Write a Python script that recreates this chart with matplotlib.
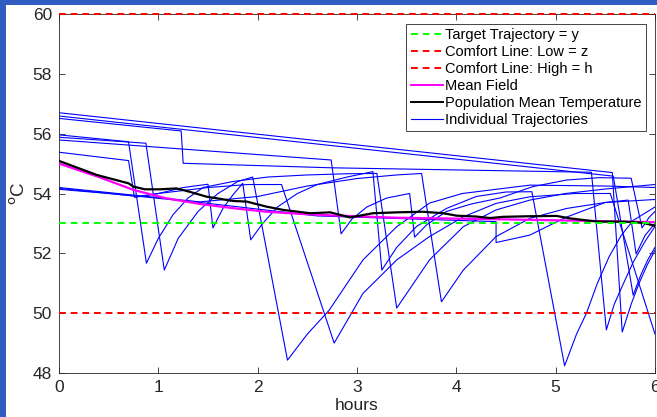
import matplotlib
matplotlib.use("Agg")
import matplotlib.pyplot as plt
from matplotlib.patches import Rectangle
from matplotlib.lines import Line2D

# ---------------- data ----------------
target_level = 53.0
comfort_low = 50.0
comfort_high = 60.0

mean_field_t = [0, 0.41, 0.75, 1.08, 1.42, 1.75, 2.09, 2.42, 2.73, 3.40, 4.40, 5.41, 6.0]
mean_field_T = [55.0, 54.54, 54.12, 53.84, 53.65, 53.51, 53.39, 53.32, 53.27, 53.19, 53.14, 53.08, 53.04]

pop_mean_t = [0, 0.38, 0.70, 0.75, 0.865, 1.02, 1.18, 1.28, 1.49, 1.59, 1.75, 1.89, 2.09, 2.26,
              2.53, 2.73, 2.93, 3.16, 3.40, 3.66, 3.87, 4.0, 4.20, 4.34, 4.47, 4.74, 5.01, 5.14,
              5.34, 5.44, 5.68, 5.88, 6.0]
pop_mean_T = [55.09, 54.62, 54.34, 54.23, 54.14, 54.14, 54.17, 54.09, 53.89, 53.84, 53.75, 53.73,
              53.56, 53.45, 53.34, 53.37, 53.20, 53.34, 53.37, 53.39, 53.34, 53.26, 53.23, 53.18,
              53.22, 53.24, 53.25, 53.17, 53.09, 53.06, 53.06, 53.02, 52.92]

traj_a = [(0, 56.70), (5.57, 54.70), (5.67, 49.37), (5.76, 50.3), (5.84, 51.0), (5.92, 51.6), (6.0, 52.1)]
traj_b = [(0, 56.59), (5.58, 54.58), (5.78, 50.6), (5.86, 51.3), (5.93, 51.8), (6.0, 52.2)]
traj_c = [(0, 56.51), (1.23, 56.09), (1.25, 55.01), (2.73, 54.86), (5.36, 54.71), (5.51, 49.44),
          (5.59, 50.3), (5.67, 50.9), (5.78, 51.7), (5.9, 52.4), (6.0, 52.9)]
traj_d = [(0, 55.96), (0.70, 55.73), (0.88, 51.67), (1.0, 52.5), (1.15, 53.3), (1.3, 53.85),
          (1.45, 54.2), (1.75, 54.4), (2.1, 54.55), (2.5, 54.62), (2.9, 54.66), (3.20, 54.67),
          (3.40, 50.17), (3.57, 51.0), (3.73, 51.78), (4.07, 52.89), (4.40, 53.45), (4.74, 53.78),
          (5.1, 54.0), (5.5, 54.15), (6.0, 54.3)]
traj_e = [(0, 55.88), (0.875, 55.68), (1.06, 51.44), (1.2, 52.5), (1.4, 53.4), (1.6, 54.0),
          (1.8, 54.4), (1.95, 54.55), (2.30, 48.43), (2.50, 49.3), (2.72, 50.1), (3.06, 51.78),
          (3.40, 52.89), (3.73, 53.68), (4.06, 54.0), (4.74, 54.28), (5.5, 54.25), (6.0, 54.2)]
traj_f = [(0, 55.79), (2.74, 55.12), (2.84, 52.65), (2.95, 53.15), (3.1, 53.55), (3.3, 53.85),
          (3.53, 54.0), (3.58, 52.54), (3.7, 52.95), (3.9, 53.4), (4.15, 53.65), (4.44, 53.85),
          (4.77, 54.23), (5.11, 54.45), (5.44, 54.53), (5.76, 54.51), (5.87, 52.85), (5.94, 53.2),
          (6.0, 53.4)]
traj_g = [(0, 55.38), (0.70, 55.1), (0.76, 53.87), (1.0, 54.0), (1.5, 54.2), (1.9, 54.3),
          (2.24, 54.3), (2.77, 49.0), (3.06, 50.66), (3.40, 51.78), (3.73, 52.56), (4.07, 53.22),
          (4.40, 53.67), (4.74, 53.89), (5.2, 54.0), (5.55, 54.0), (6.0, 49.3)]
traj_h = [(0, 54.2), (1.42, 53.72), (2.0, 53.9), (2.5, 54.25), (3.0, 54.5), (3.4, 54.62),
          (3.65, 54.67), (3.85, 50.38), (4.07, 51.44), (4.40, 52.56), (4.74, 53.17), (5.11, 53.5),
          (5.5, 53.7), (6.0, 53.8)]
traj_i = [(0, 54.17), (1.42, 53.70), (2.6, 53.25), (4.40, 53.06), (4.40, 52.36), (4.74, 52.61),
          (5.1, 53.2), (5.5, 53.7), (5.73, 53.78), (5.81, 51.98), (5.9, 52.6), (6.0, 53.0)]
traj_j = [(0, 54.14), (0.5, 54.0), (0.8, 53.9), (1.0, 54.0), (1.25, 54.2), (1.50, 54.31),
          (1.55, 52.85), (1.65, 53.5), (1.75, 53.95), (1.85, 54.34), (1.93, 52.45), (2.05, 53.0),
          (2.2, 53.55), (2.4, 54.0), (2.6, 54.3), (2.9, 54.55), (3.16, 54.73), (3.25, 51.44),
          (3.4, 52.2), (3.6, 52.9), (3.9, 53.5), (4.2, 53.9), (4.5, 54.05), (4.76, 54.06),
          (5.09, 48.24), (5.21, 49.3), (5.31, 50.0), (5.42, 51.0), (5.54, 51.9), (5.66, 52.6),
          (5.78, 53.1), (6.0, 53.55)]

trajectories = [traj_a, traj_b, traj_c, traj_d, traj_e, traj_f, traj_g, traj_h, traj_i, traj_j]

x_ticks = [0, 1, 2, 3, 4, 5, 6]
y_ticks = [48, 50, 52, 54, 56, 58, 60]

labels = ["Target Trajectory = y", "Comfort Line: Low = z", "Comfort Line: High = h",
          "Mean Field", "Population Mean Temperature", "Individual Trajectories"]

# ---------------- figure ----------------
plt.rcParams['font.family'] = ['Liberation Sans', 'DejaVu Sans']
W, H = 657, 417
fig = plt.figure(figsize=(W / 100, H / 100), dpi=100)
fig.patch.set_facecolor('#315CC2')
fig.add_artist(Rectangle((6 / W, 0), 1 - 6 / W, 1 - 5 / H, transform=fig.transFigure,
                         facecolor='white', edgecolor='none', zorder=0))

ax = fig.add_axes([59 / W, (H - 373) / H, (655 - 59) / W, (373 - 14) / H])
ax.set_facecolor('white')

for tr in trajectories:
    ts = [p[0] for p in tr]
    Ts = [p[1] for p in tr]
    ax.plot(ts, Ts, color='#0000FF', lw=0.8, zorder=2)

ax.plot(mean_field_t, mean_field_T, color='#FF00FF', lw=1.6, zorder=3)
ax.plot(pop_mean_t, pop_mean_T, color='black', lw=1.6, zorder=4)

dash = (0, (3.5, 2.5))
ax.axhline(target_level, color='#00FF00', lw=1.4, ls=dash, zorder=5)
ax.axhline(comfort_low, color='#FF0000', lw=1.4, ls=dash, zorder=5)
ax.axhline(comfort_high, color='#FF0000', lw=1.4, ls=dash, zorder=5, clip_on=False)

ax.set_xlim(0, 6)
ax.set_ylim(48, 60)
ax.set_xticks(x_ticks)
ax.set_yticks(y_ticks)
ax.tick_params(direction='in', top=True, right=True, length=4, width=0.6,
               colors='#262626', labelsize=12.5)
ax.tick_params(axis='x', pad=5)
ax.tick_params(axis='y', pad=5)
for s in ax.spines.values():
    s.set_color('#262626')
    s.set_linewidth(0.6)

ax.set_xlabel('hours', fontsize=12.5, color='#262626', labelpad=2)
ax.set_ylabel('$^{\\mathrm{o}}$C', fontsize=13.5, color='#262626', labelpad=3)

handles = [
    Line2D([], [], color='#00FF00', lw=1.4, ls=dash),
    Line2D([], [], color='#FF0000', lw=1.4, ls=dash),
    Line2D([], [], color='#FF0000', lw=1.4, ls=dash),
    Line2D([], [], color='#FF00FF', lw=1.4),
    Line2D([], [], color='black', lw=1.4),
    Line2D([], [], color='#0000FF', lw=0.8),
]
leg = ax.legend(handles, labels, loc='upper right',
                bbox_to_anchor=((646 - 59) / (655 - 59), (373 - 24) / (373 - 14)),
                fontsize=10.5, frameon=True, fancybox=False, framealpha=1,
                edgecolor='#262626', handlelength=2.2, handletextpad=0.15,
                labelspacing=0.2, borderpad=0.3, borderaxespad=0)
leg.get_frame().set_linewidth(0.6)
leg.set_zorder(10)

fig.savefig('out.png', dpi=100, facecolor=fig.get_facecolor())
